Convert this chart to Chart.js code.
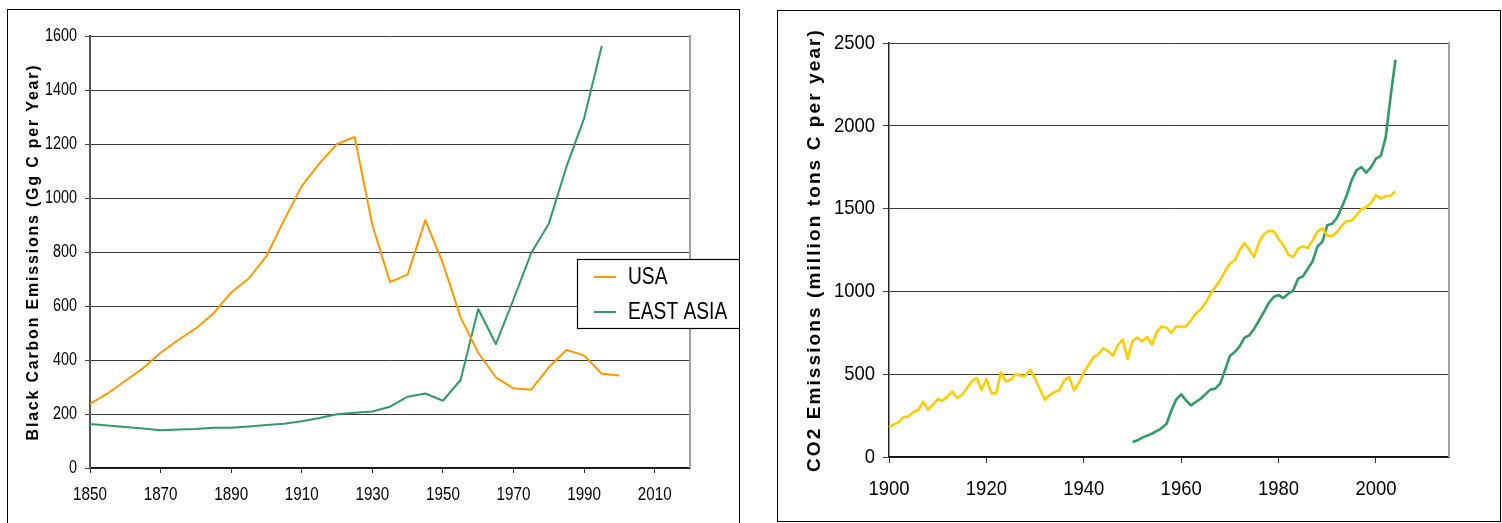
<!DOCTYPE html>
<html>
<head>
<meta charset="utf-8">
<script src="https://cdn.jsdelivr.net/npm/chart.js@4.4.1/dist/chart.umd.min.js"></script>
<style>
  html, body { margin: 0; padding: 0; background: #fff; width: 1502px; height: 523px; overflow: hidden; }
  .panel { position: absolute; border: 1px solid #000; background: #fff; }
  #p1 { left: 7px; top: 9px; width: 731px; height: 520px; }
  #p2 { left: 777px; top: 10px; width: 722px; height: 510px; }
  canvas { display: block; }
</style>
</head>
<body>
<div class="panel" id="p1"><canvas id="bc" width="731" height="520"></canvas></div>
<div class="panel" id="p2"><canvas id="co2" width="722" height="510"></canvas></div>
<script>
// ---- Black carbon emissions, every 5 years (Gg C per year) ----
const bcYears = [1850, 1855, 1860, 1865, 1870, 1875, 1880, 1885, 1890, 1895,
                 1900, 1905, 1910, 1915, 1920, 1925, 1930, 1935, 1940, 1945,
                 1950, 1955, 1960, 1965, 1970, 1975, 1980, 1985, 1990, 1995, 2000];
const bcUSA = [237, 276, 323, 369, 427, 474, 517, 573, 650, 702,
               785, 918, 1044, 1128, 1200, 1226, 900, 689, 716, 918,
               758, 558, 427, 336, 295, 290, 373, 437, 417, 349, 343];
const bcEastAsia = [163, 157, 152, 146, 140, 143, 144, 149, 149, 154,
                    159, 164, 173, 185, 199, 205, 209, 227, 264, 276,
                    249, 326, 589, 459, 625, 796, 905, 1116, 1295, 1563];
const bcXTicks = [1850, 1870, 1890, 1910, 1930, 1950, 1970, 1990, 2010];

// ---- CO2 emissions, annual (million tons C per year) ----
const co2UsaStart = 1900;
const co2Usa = [181, 197, 209, 242, 244, 270, 282, 334, 286, 314,
                350, 340, 366, 395, 356, 376, 415, 457, 477, 405,
                471, 386, 384, 511, 457, 465, 503, 491, 491, 527,
                473, 409, 346, 374, 392, 403, 463, 483, 403, 447,
                511, 556, 604, 620, 658, 640, 612, 676, 709, 592,
                700, 721, 698, 725, 678, 755, 789, 781, 749, 789,
                785, 789, 825, 866, 890, 930, 982, 1027, 1067, 1121,
                1167, 1188, 1248, 1292, 1252, 1208, 1298, 1345, 1365, 1363,
                1318, 1278, 1222, 1208, 1258, 1272, 1262, 1308, 1363, 1381,
                1337, 1335, 1359, 1397, 1425, 1427, 1459, 1496, 1508, 1534,
                1582, 1560, 1576, 1578, 1604];
const co2EastAsiaStart = 1950;
const co2EastAsia = [91, 101, 117, 129, 141, 157, 175, 201, 282, 348,
                     378, 342, 312, 332, 352, 380, 407, 413, 443, 523,
                     610, 634, 668, 721, 735, 775, 825, 876, 930, 966,
                     978, 960, 986, 1005, 1077, 1091, 1137, 1182, 1272, 1300,
                     1399, 1409, 1445, 1510, 1580, 1671, 1731, 1751, 1717, 1751,
                     1802, 1818, 1932, 2174, 2399];
const co2XTicks = [1900, 1920, 1940, 1960, 1980, 2000];

// ---- shared styling ----
const SANS = "'Liberation Sans', Arial, sans-serif";
const ORANGE = '#FF9900';
const YELLOW = '#FFCC00';
const GREEN = '#339966';

const pairs = (xs, ys) => ys.map((y, i) => ({ x: xs[i], y }));
const annual = (start, ys) => ys.map((y, i) => ({ x: start + i, y }));
const plain = v => String(v);

// Narrow lettering for ticks and legend: regular text is squeezed horizontally
function condensedText(factor) {
  return {
    id: 'condensedText',
    beforeInit(chart) {
      const ctx = chart.ctx;
      const fill = ctx.fillText;
      ctx.fillText = function (text, x, y, maxWidth) {
        if (/bold/.test(this.font)) return fill.call(this, text, x, y, maxWidth);
        const w = this.measureText(text).width * factor;
        return fill.call(this, text, x, y, maxWidth === undefined ? w : Math.min(w, maxWidth));
      };
    }
  };
}

// Draws the rotated y-axis title with extra letter spacing
function spacedTitle(spacing) {
  return {
    id: 'spacedTitle',
    beforeDraw(chart) {
      const s = chart.scales.y;
      if (!s || s._spaced) return;
      const base = s.drawTitle;
      s.drawTitle = function () {
        this.ctx.save();
        this.ctx.letterSpacing = spacing + 'px';
        base.apply(this, arguments);
        this.ctx.restore();
      };
      s._spaced = true;
    }
  };
}

// Grey right-hand edge of the plot area
const plotEdge = {
  id: 'plotEdge',
  beforeDatasetsDraw(chart) {
    const { ctx, chartArea: a } = chart;
    ctx.save();
    ctx.strokeStyle = '#a0a0a0';
    ctx.lineWidth = 2;
    ctx.beginPath();
    ctx.moveTo(a.right, a.top - 1);
    ctx.lineTo(a.right, a.bottom);
    ctx.stroke();
    ctx.restore();
  }
};

// Legend placed over the lower right of the plot, in a framed white box
const legendBox = { x: 569.5, y: 249.5, w: 170, h: 69 };
const legendPlacement = {
  id: 'legendPlacement',
  afterLayout(chart) {
    const lg = chart.legend;
    lg.left = 575; lg.top = 244;
    lg.right = lg.left + 160; lg.bottom = lg.top + 200;
  },
  afterDatasetsDraw(chart) {
    const ctx = chart.ctx;
    ctx.save();
    ctx.fillStyle = '#fff';
    ctx.fillRect(legendBox.x, legendBox.y, legendBox.w, legendBox.h);
    ctx.strokeStyle = '#000';
    ctx.lineWidth = 1.2;
    ctx.strokeRect(legendBox.x, legendBox.y, legendBox.w, legendBox.h);
    ctx.restore();
    chart.legend.draw();
  }
};

function lineSet(label, data, color, width) {
  return {
    label, data,
    borderColor: color, backgroundColor: color,
    borderWidth: width, pointRadius: 0, tension: 0,
    borderJoinStyle: 'round', borderCapStyle: 'butt'
  };
}

// ---- Black carbon chart ----
new Chart(document.getElementById('bc'), {
  type: 'line',
  data: {
    datasets: [
      lineSet('USA', pairs(bcYears, bcUSA), ORANGE, 2),
      lineSet('EAST ASIA', pairs(bcYears, bcEastAsia), GREEN, 2)
    ]
  },
  options: {
    responsive: false, animation: false, events: [],
    layout: { padding: { left: 16, right: 49, top: 26, bottom: 0 } },
    plugins: {
      tooltip: { enabled: false },
      legend: {
        position: 'chartArea', align: 'start',
        labels: {
          usePointStyle: true, pointStyle: 'line', pointStyleWidth: 22,
          padding: 11, color: '#000',
          font: { family: SANS, size: 24 }
        }
      }
    },
    scales: {
      x: {
        type: 'linear', min: 1850, max: 2020,
        afterBuildTicks: s => { s.ticks = bcXTicks.map(v => ({ value: v })); },
        afterFit: s => { s.height = 62; },
        grid: { drawOnChartArea: false, drawTicks: true, tickLength: 5, tickColor: '#333', lineWidth: 1 },
        border: { display: true, color: '#111', width: 1.5 },
        ticks: { callback: plain, color: '#000', padding: 10, maxRotation: 0, font: { family: SANS, size: 19 } }
      },
      y: {
        min: 0, max: 1600,
        afterFit: s => { s.width = 66; },
        grid: { color: '#3a3a3a', lineWidth: 1, drawTicks: true, tickLength: 5, tickColor: '#444' },
        border: { display: true, color: '#555', width: 2 },
        ticks: { stepSize: 200, callback: plain, color: '#000', padding: 8, font: { family: SANS, size: 18 } },
        title: {
          display: true, text: 'Black Carbon Emissions (Gg C per Year)',
          color: '#000', padding: 0, font: { family: SANS, size: 16, weight: 'bold' }
        }
      }
    }
  },
  plugins: [condensedText(0.8), spacedTitle(1.8), plotEdge, legendPlacement]
});

// ---- CO2 chart ----
new Chart(document.getElementById('co2'), {
  type: 'line',
  data: {
    datasets: [
      lineSet('USA', annual(co2UsaStart, co2Usa), YELLOW, 2.6),
      lineSet('EAST ASIA', annual(co2EastAsiaStart, co2EastAsia), GREEN, 2.6)
    ]
  },
  options: {
    responsive: false, animation: false, events: [],
    layout: { padding: { left: 25, right: 51, top: 32, bottom: 0 } },
    plugins: { tooltip: { enabled: false }, legend: { display: false } },
    scales: {
      x: {
        type: 'linear', min: 1900, max: 2015,
        afterBuildTicks: s => { s.ticks = co2XTicks.map(v => ({ value: v })); },
        afterFit: s => { s.height = 64; },
        grid: { drawOnChartArea: false, drawTicks: true, tickLength: 6, tickColor: '#333', lineWidth: 1 },
        border: { display: true, color: '#111', width: 1.5 },
        ticks: { callback: plain, color: '#000', padding: 14, maxRotation: 0, font: { family: SANS, size: 21 } }
      },
      y: {
        min: 0, max: 2500,
        afterFit: s => { s.width = 86; },
        grid: { color: '#3a3a3a', lineWidth: 1, drawTicks: true, tickLength: 6, tickColor: '#444' },
        border: { display: true, color: '#222', width: 1.5 },
        ticks: { stepSize: 500, callback: plain, color: '#000', padding: 8, font: { family: SANS, size: 21 } },
        title: {
          display: true, text: 'CO2 Emissions (million tons C per year)',
          color: '#000', padding: 0, font: { family: SANS, size: 19, weight: 'bold' }
        }
      }
    }
  },
  plugins: [condensedText(0.88), spacedTitle(2.1), plotEdge]
});
</script>
</body>
</html>
